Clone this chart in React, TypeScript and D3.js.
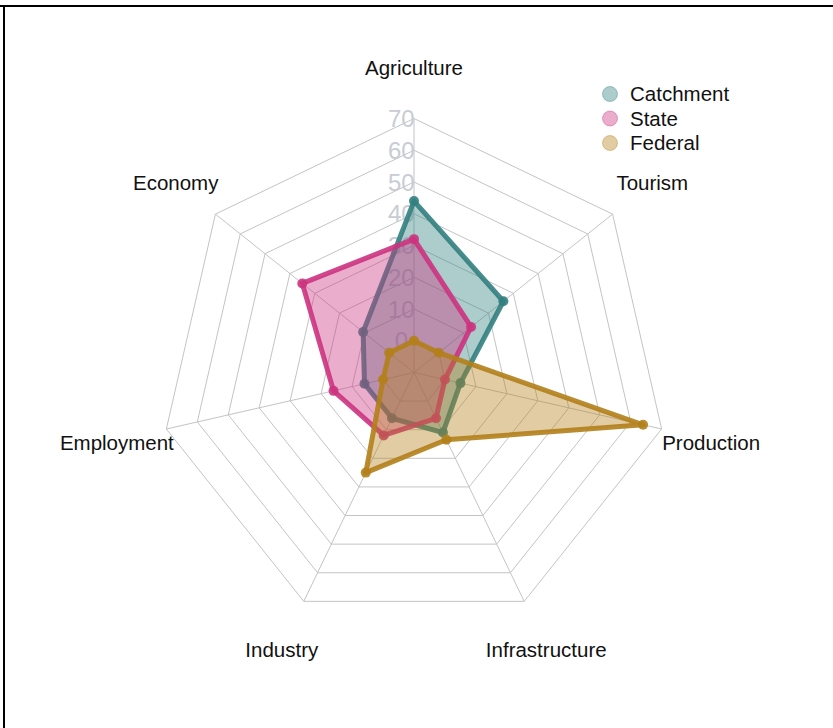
import React, { useEffect, useRef } from "react";
import * as d3 from "d3";

// axes, in the order fmsb draws them (top, then counter-clockwise)
const axes = ["Agriculture", "Economy", "Employment", "Industry", "Infrastructure", "Production", "Tourism"];
const catchment = [44, 10.5, 6, 6, 11, 5, 26];
const stateVals = [32, 35, 16, 12, 6, 0, 13];
const federal = [0, 0, 0, 25, 13.5, 64, 0];
const seriesNames = ["Catchment", "State", "Federal"];
const tickLabels = [0, 10, 20, 30, 40, 50, 60, 70];

const borderCols = ["rgba(51,128,128,0.9)", "rgba(204,51,128,0.9)", "rgba(179,128,26,0.9)"];
const fillCols = ["rgba(51,128,128,0.4)", "rgba(204,51,128,0.4)", "rgba(179,128,26,0.4)"];

const W = 833, H = 728;
const cx = 414, cy = 372.5, R = 254;
const FONT = "'Liberation Sans', Arial, sans-serif";

function drawRadar(el: SVGSVGElement) {
    const svg = d3.select(el);
    svg.selectAll("*").remove();

    // frame (only top and left edge are visible in the original)
    svg.append("line").attr("x1", 0).attr("x2", W).attr("y1", 6).attr("y2", 6)
        .attr("stroke", "#000").attr("stroke-width", 2);
    svg.append("line").attr("x1", 4).attr("x2", 4).attr("y1", 5).attr("y2", H)
        .attr("stroke", "#000").attr("stroke-width", 2);

    const g = svg.append("g").attr("transform", `translate(${cx},${cy})`);
    const n = axes.length;
    const angle = (i: number) => -i * 2 * Math.PI / n; // d3 radial: 0 = up, clockwise positive
    const r = d3.scaleLinear().domain([-10, 70]).range([0, R]);

    const radial = d3.lineRadial<number>()
        .angle((_, i) => angle(i))
        .radius(d => r(d))
        .curve(d3.curveLinearClosed);

    // grid rings
    tickLabels.forEach(t => {
        g.append("path")
            .attr("d", radial(axes.map(() => t)))
            .attr("fill", "none")
            .attr("stroke", "#c4c4c4")
            .attr("stroke-width", 1);
    });
    // spokes
    axes.forEach((_, i) => {
        const a = angle(i);
        g.append("line")
            .attr("x1", 0).attr("y1", 0)
            .attr("x2", R * Math.sin(a)).attr("y2", -R * Math.cos(a))
            .attr("stroke", "#c4c4c4").attr("stroke-width", 1);
    });

    // tick labels on the top axis
    g.selectAll(".tick")
        .data(tickLabels)
        .enter().append("text")
        .attr("x", -0.05 * R)
        .attr("y", d => -r(d))
        .attr("dy", "0.36em")
        .attr("text-anchor", "middle")
        .attr("font-family", FONT)
        .attr("font-size", 24)
        .attr("fill", "#c8ccd4")
        .text(d => d);

    // axis labels
    axes.forEach((lab, i) => {
        const a = angle(i);
        const y = -1.2 * R * Math.cos(a);
        g.append("text")
            .attr("x", 1.2 * R * Math.sin(a))
            .attr("y", y)
            .attr("dy", y > 0 ? "0.46em" : "0.36em")
            .attr("text-anchor", "middle")
            .attr("font-family", FONT)
            .attr("font-size", 20.5)
            .attr("fill", "#111")
            .text(lab);
    });

    // data polygons
    [catchment, stateVals, federal].forEach((vals, s) => {
        g.append("path")
            .attr("d", radial(vals))
            .attr("fill", fillCols[s])
            .attr("stroke", borderCols[s])
            .attr("stroke-width", 5)
            .attr("stroke-linejoin", "round");
        g.selectAll(".pt" + s)
            .data(vals)
            .enter().append("circle")
            .attr("cx", (d, i) => r(d) * Math.sin(angle(i)))
            .attr("cy", (d, i) => -r(d) * Math.cos(angle(i)))
            .attr("r", 5)
            .attr("fill", borderCols[s]);
    });

    // legend
    const leg = svg.append("g").attr("transform", "translate(610,94)");
    seriesNames.forEach((name, s) => {
        const row = leg.append("g").attr("transform", `translate(0,${s * 24.5})`);
        row.append("circle").attr("r", 7.5)
            .attr("fill", fillCols[s]).attr("stroke", fillCols[s]).attr("stroke-width", 1);
        row.append("text").attr("x", 20).attr("dy", "0.36em")
            .attr("font-family", FONT).attr("font-size", 20.5).attr("fill", "#111")
            .text(name);
    });
}

export default function App() {
    const ref = useRef<SVGSVGElement>(null);
    useEffect(() => {
        if (ref.current) drawRadar(ref.current);
    }, []);
    return (
        <svg ref={ref} width={W} height={H}
            style={{ position: "absolute", left: 0, top: 0, background: "#fff" }} />
    );
}
